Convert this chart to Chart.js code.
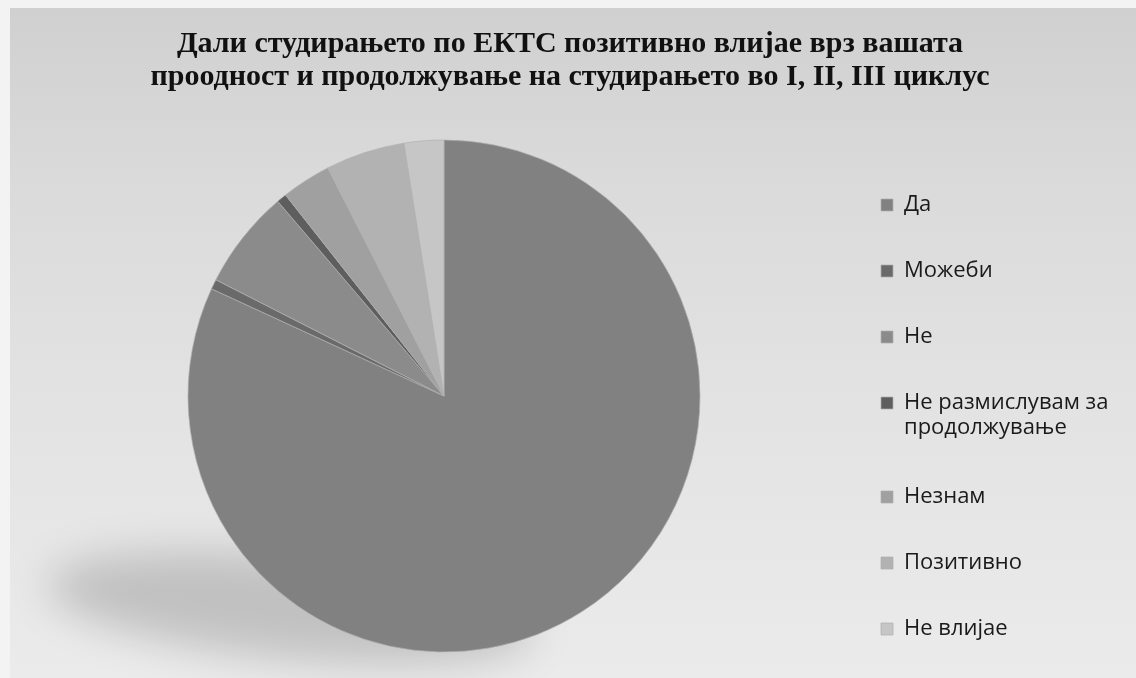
<!DOCTYPE html>
<html>
<head>
<meta charset="utf-8">
<script src="https://cdn.jsdelivr.net/npm/chart.js@4"></script>
<style>
  html, body { margin: 0; padding: 0; background: #f4f4f4; }
  #wrap { position: relative; width: 1136px; height: 678px; background: #f3f3f3; overflow: hidden; }
  #bg { position: absolute; left: 10px; top: 8px; right: 0; bottom: 0;
        background: linear-gradient(180deg, #d0d0d0 0%, #dadada 25%, #e3e3e3 60%, #ebebeb 100%); }
  canvas { position: absolute; left: 0; top: 0; }
</style>
</head>
<body>
<div id="wrap"><div id="bg"></div><canvas id="c" width="1136" height="678"></canvas></div>
<script>
// ---- data ----
const titleLines = [
  'Дали студирањето по ЕКТС позитивно влијае врз вашата',
  'проодност и продолжување на студирањето во I, II, III циклус'
];
const categories = [
  'Да',
  'Можеби',
  'Не',
  ['Не размислувам за', 'продолжување'],
  'Незнам',
  'Позитивно',
  'Не влијае'
];
const responses = [131, 1, 10, 1, 5, 8, 4];
const sliceColors = ['#818181', '#6a6a6a', '#8b8b8b', '#5e5e5e', '#a0a0a0', '#b2b2b2', '#c6c6c6'];

// soft shadow under the pie, placed from the arc geometry computed by Chart.js
const pieShadow = {
  id: 'pieShadow',
  beforeDatasetsDraw(chart) {
    const arc = chart.getDatasetMeta(0).data[0];
    if (!arc) return;
    const r = arc.outerRadius;
    const ctx = chart.ctx;
    ctx.save();
    ctx.filter = 'blur(20px)';
    ctx.fillStyle = 'rgba(0,0,0,0.17)';
    ctx.beginPath();
    ctx.ellipse(arc.x - 0.6 * r, arc.y + 0.83 * r, 0.95 * r, 0.2 * r, 0.1, 0, Math.PI * 2);
    ctx.fill();
    ctx.restore();
  }
};

// let long legend labels run past the (narrow) legend box instead of being clipped
const legendOverflow = {
  id: 'legendOverflow',
  afterLayout(chart) {
    const lg = chart.legend;
    if (lg) { lg.right = chart.width; lg.width = lg.right - lg.left; }
  }
};

new Chart(document.getElementById('c'), {
  type: 'pie',
  data: {
    labels: categories,
    datasets: [{
      data: responses,
      backgroundColor: sliceColors,
      borderColor: 'rgba(175,175,175,0.7)',
      borderWidth: 1,
      radius: 256
    }]
  },
  options: {
    responsive: false,
    devicePixelRatio: 1,
    animation: false,
    layout: { padding: { left: 51, right: 47, top: 0, bottom: -6 } },
    plugins: {
      title: {
        display: true,
        text: titleLines,
        color: '#111111',
        font: { family: '"Liberation Serif", "DejaVu Serif", serif', size: 30, weight: 'bold', lineHeight: '33px' },
        padding: { top: 28, bottom: 20 }
      },
      legend: {
        display: true,
        position: 'right',
        align: 'end',
        maxWidth: 252,
        labels: {
          color: '#1a1a1a',
          font: { family: '"Open Sans", "Noto Sans", sans-serif', size: 22, lineHeight: '25px' },
          boxWidth: 12,
          boxHeight: 12,
          padding: 44
        }
      },
      tooltip: { enabled: false }
    }
  },
  plugins: [pieShadow, legendOverflow]
});
</script>
</body>
</html>
